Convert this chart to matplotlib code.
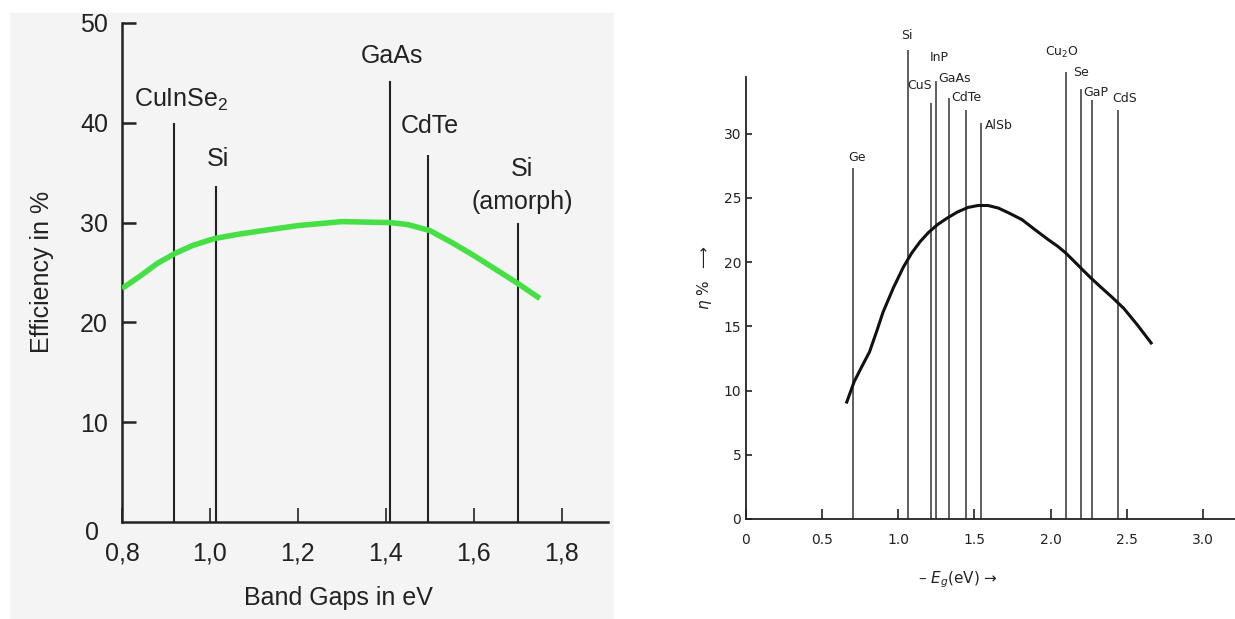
import matplotlib.pyplot as plt
from matplotlib.patches import Rectangle

plt.rcParams['font.family'] = ['Liberation Sans', 'DejaVu Sans']

# left chart: efficiency vs band gap
left_names = ['CuInSe$\\mathregular{_2}$', 'Si', 'GaAs', 'CdTe', 'Si\n(amorph)']
left_gaps = [0.918, 1.013, 1.409, 1.495, 1.70]
left_tops = [40.0, 33.7, 44.2, 36.8, 30.0]
left_curve_x = [0.80, 0.84, 0.88, 0.92, 0.96, 1.01, 1.06, 1.12, 1.20, 1.30,
                1.41, 1.45, 1.50, 1.55, 1.60, 1.65, 1.70, 1.75]
left_curve_y = [23.4, 24.6, 25.9, 26.9, 27.7, 28.4, 28.8, 29.2, 29.7, 30.1,
                30.0, 29.8, 29.2, 28.0, 26.7, 25.3, 23.9, 22.4]
left_xticks = [0.8, 1.0, 1.2, 1.4, 1.6, 1.8]
left_xlabels = ['0,8', '1,0', '1,2', '1,4', '1,6', '1,8']
left_yticks = [10, 20, 30, 40, 50]

# right chart: scanned textbook figure
right_names = ['Ge', 'Si', 'CuS', 'InP', 'GaAs', 'CdTe', 'AlSb',
               'Cu$_2$O', 'Se', 'GaP', 'CdS']
right_gaps = [0.703, 1.066, 1.214, 1.249, 1.337, 1.446, 1.544, 2.10, 2.20, 2.27, 2.44]
right_tops = [27.3, 36.5, 32.4, 34.1, 32.8, 31.8, 30.8, 34.8, 33.5, 32.6, 31.8]
right_curve_x = [0.664, 0.713, 0.76, 0.813, 0.86, 0.902, 0.97, 1.035, 1.09, 1.146,
                 1.20, 1.258, 1.32, 1.391, 1.46, 1.525, 1.59, 1.658, 1.73, 1.813,
                 1.90, 1.99, 2.05, 2.10, 2.16, 2.21, 2.27, 2.325, 2.40, 2.48, 2.57, 2.66]
right_curve_y = [9.1, 10.7, 11.8, 13.0, 14.6, 16.1, 18.0, 19.6, 20.7, 21.6,
                 22.3, 22.9, 23.4, 23.9, 24.25, 24.4, 24.4, 24.2, 23.8, 23.3,
                 22.5, 21.7, 21.2, 20.7, 20.0, 19.4, 18.7, 18.1, 17.3, 16.4, 15.1, 13.7]
right_xticks = [0, 0.5, 1.0, 1.5, 2.0, 2.5, 3.0]
right_xlabels = ['0', '0.5', '1.0', '1.5', '2.0', '2.5', '3.0']
right_yticks = [0, 5, 10, 15, 20, 25, 30]

# label offsets in pixels (dx, dy) from the top of each line
left_offsets = [(7, 23), (2, 27), (2, 25), (2, 29), (4, 37)]
right_offsets = [(4, 11), (-1, 15), (-11, 17), (3, 23), (5, 19), (0, 13), (18, -2),
                 (-4, 19), (0, 16), (4, 8), (7, 12)]

W, H = 1235, 619
fig = plt.figure(figsize=(W / 100, H / 100), dpi=100)
fig.patches.append(Rectangle((9.5 / W, 0), (614 - 9.5) / W, 1 - 13 / H,
                             transform=fig.transFigure, facecolor='#f4f4f4',
                             edgecolor='none', zorder=-10))

ink = '#222222'

# ---- left ----
ax1 = fig.add_axes([122 / W, 1 - 522 / H, (608 - 122) / W, (522 - 23) / H])
ax1.set_facecolor('none')
ax1.set_xlim(0.8, 1.905)
ax1.set_ylim(0, 50)
for s in ['top', 'right']:
    ax1.spines[s].set_visible(False)
for s in ['left', 'bottom']:
    ax1.spines[s].set_linewidth(1.8)
    ax1.spines[s].set_color(ink)

ax1.vlines(left_gaps, 0, left_tops, colors=ink, linewidth=1.5, clip_on=False)
ax1.plot(left_curve_x, left_curve_y, color='#46e046', linewidth=4,
         solid_capstyle='butt', solid_joinstyle='round', zorder=3)
for name, g, t, (dx, dy) in zip(left_names, left_gaps, left_tops, left_offsets):
    ax1.annotate(name, xy=(g, t), xytext=(dx, dy), textcoords='offset pixels',
                 ha='center', va='center', fontsize=18, color=ink,
                 linespacing=1.45, annotation_clip=False)

ax1.set_xticks(left_xticks)
ax1.set_xticklabels(left_xlabels)
ax1.set_yticks(left_yticks)
ax1.tick_params(axis='y', direction='in', length=10, width=1.8, colors=ink,
                labelsize=18, pad=10)
ax1.tick_params(axis='x', direction='in', length=10, width=1.2, colors=ink,
                labelsize=18, pad=14)
ax1.annotate('0', xy=(0.8, 0), xytext=(-30, -11), textcoords='offset pixels',
             ha='center', va='center', fontsize=18, color=ink, annotation_clip=False)

fig.text(338 / W, 1 - 598 / H, 'Band Gaps in eV', ha='center', va='center',
         fontsize=18, color=ink)
fig.text(42 / W, 1 - 272 / H, 'Efficiency in %', ha='center', va='center',
         rotation=90, fontsize=18, color=ink)

# ---- right ----
ax2 = fig.add_axes([745.5 / W, 1 - 519 / H, (W - 745.5) / W, (519 - 77) / H])
ax2.set_facecolor('none')
ax2.set_xlim(0, (W - 745.5) / 152.5)
ax2.set_ylim(0, 34.4)
for s in ['top', 'right']:
    ax2.spines[s].set_visible(False)
for s in ['left', 'bottom']:
    ax2.spines[s].set_linewidth(1.3)
    ax2.spines[s].set_color(ink)

ax2.vlines(right_gaps, 0, right_tops, colors='#333333', linewidth=1.1, clip_on=False)
ax2.plot(right_curve_x, right_curve_y, color='#111111', linewidth=2.2,
         solid_joinstyle='round', zorder=3)
for name, g, t, (dx, dy) in zip(right_names, right_gaps, right_tops, right_offsets):
    ax2.annotate(name, xy=(g, t), xytext=(dx, dy), textcoords='offset pixels',
                 ha='center', va='center', fontsize=9, color=ink,
                 family='DejaVu Sans', annotation_clip=False)

ax2.set_xticks(right_xticks)
ax2.set_xticklabels(right_xlabels, family='DejaVu Sans')
ax2.set_yticks(right_yticks)
ax2.set_yticklabels([str(v) for v in right_yticks], family='DejaVu Sans')
ax2.tick_params(axis='y', direction='in', length=4, width=1.2, colors=ink,
                labelsize=10, pad=3)
ax2.tick_params(axis='x', direction='in', length=7, width=1.2, colors=ink,
                labelsize=10, pad=10)

fig.text(958 / W, 1 - 580 / H, '– $E_g$(eV) →', ha='center', va='center',
         fontsize=11, color=ink, family='DejaVu Sans')
fig.text(705 / W, 1 - 278 / H, r'$\eta$ %  $\longrightarrow$', ha='center',
         va='center', rotation=90, fontsize=11, color=ink, family='DejaVu Sans')

fig.savefig('out.png', dpi=100)
